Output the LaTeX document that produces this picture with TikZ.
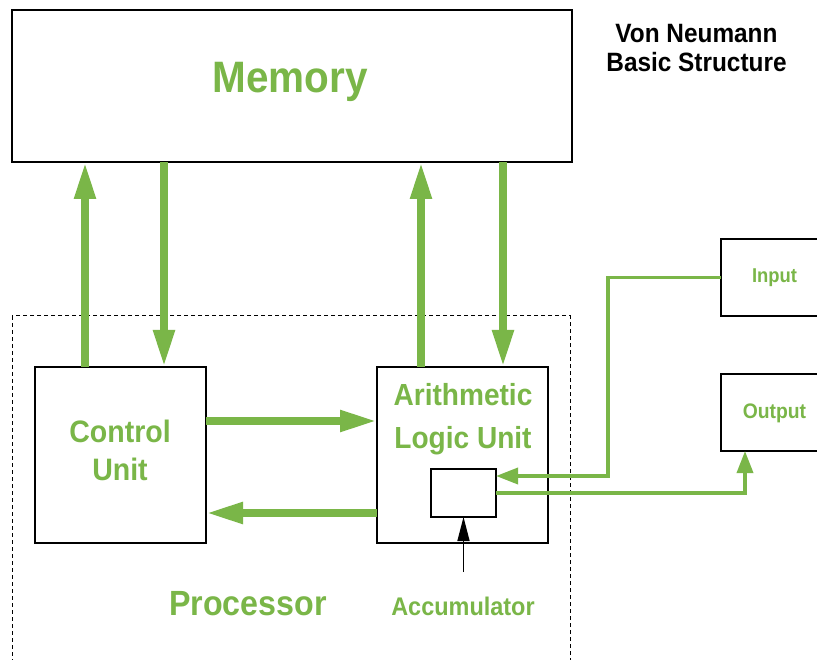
\documentclass[tikz,border=0pt]{standalone}
\usepackage{fontspec}
\setmainfont{Liberation Sans}[FakeStretch=0.92]
\usetikzlibrary{arrows.meta}
\definecolor{vnGreen}{HTML}{7AB648}
\newcommand{\vnSize}[2]{{\fontsize{#1}{#1}\selectfont #2}}

\tikzset{
  vnBox/.style={draw=black, line width=2.5pt, inner sep=0pt, outer sep=0pt},
  vnLabel/.style={anchor=base, inner sep=0pt, text=vnGreen, font=\bfseries},
  bigArrow/.style={draw=vnGreen, line width=8pt, -{Triangle[length=37pt,width=20pt]}},
  thinArrow/.style={draw=vnGreen, line width=3.5pt, -{Triangle[length=22pt,width=16pt]}},
  accArrow/.style={draw=black, line width=1.5pt, -{Triangle[length=24pt,width=12pt]}}
}

\begin{document}
\begin{tikzpicture}[x=1pt,y=-1pt]
\useasboundingbox[fill=white] (0,0) rectangle (817,660);
% processor frame
\draw[dashed, line width=1pt, dash pattern=on 4pt off 3pt] (12,316) rectangle (570,672);
% boxes
\node[vnBox, minimum width=560pt, minimum height=152pt] (memory) at (292,86) {};
\node[vnBox, minimum width=171pt, minimum height=176pt] (cu) at (120.5,455) {};
\node[vnBox, minimum width=171pt, minimum height=176pt] (alu) at (462.5,455) {};
\node[vnBox, minimum width=65pt, minimum height=48pt] (acc) at (463.5,493) {};
\node[vnBox, minimum width=106pt, minimum height=77pt] (input) at (774,277.5) {};
\node[vnBox, minimum width=106pt, minimum height=77pt] (output) at (774,412.5) {};
\coordinate (accfoot) at (463.5,572);
% texts
\node[vnLabel] (memtext) at (290,93) {\vnSize{44}{Memory}};
\node[vnLabel, text=black] (title1) at (696.5,43) {\vnSize{26.5}{Von Neumann}};
\node[vnLabel, text=black] (title2) at (696.5,72) {\vnSize{26.5}{Basic Structure}};
\node[vnLabel] (cutext1) at (120,442) {\vnSize{31}{Control}};
\node[vnLabel] (cutext2) at (120,480) {\vnSize{31}{Unit}};
\node[vnLabel] (alutext1) at (463,406) {\vnSize{30.5}{Arithmetic}};
\node[vnLabel] (alutext2) at (463,448) {\vnSize{30.5}{Logic Unit}};
\node[vnLabel] (proctext) at (248,615) {\vnSize{35}{Processor}};
\node[vnLabel] (acctext) at (463,615) {\vnSize{25.5}{Accumulator}};
\node[vnLabel] (intext) at (774.5,283) {\vnSize{20}{Input}};
\node[vnLabel] (outtext) at (774.5,418) {\vnSize{21}{Output}};
% memory buses
\draw[bigArrow] ([xshift=50pt]cu.north west) -- ([xshift=50pt]cu.north west |- memory.south);
\draw[bigArrow] ([xshift=129pt]cu.north west |- memory.south) -- ([xshift=129pt]cu.north west);
\draw[bigArrow] ([xshift=44pt]alu.north west) -- ([xshift=44pt]alu.north west |- memory.south);
\draw[bigArrow] ([xshift=126pt]alu.north west |- memory.south) -- ([xshift=126pt]alu.north west);
% control <-> alu
\draw[bigArrow] ([yshift=-54pt]cu.north east) -- ([yshift=-54pt]cu.north east -| alu.west);
\draw[bigArrow] ([yshift=-146pt]alu.north west) -- ([yshift=-146pt]alu.north west -| cu.east);
% input / output
\draw[thinArrow] (input.west) -- ++(-113,0) |- ([yshift=17pt]acc.east);
\draw[thinArrow] (acc.east) -| ([xshift=-29pt]output.south);
\draw[accArrow] (accfoot) -- (acc.south);
\end{tikzpicture}
\end{document}
